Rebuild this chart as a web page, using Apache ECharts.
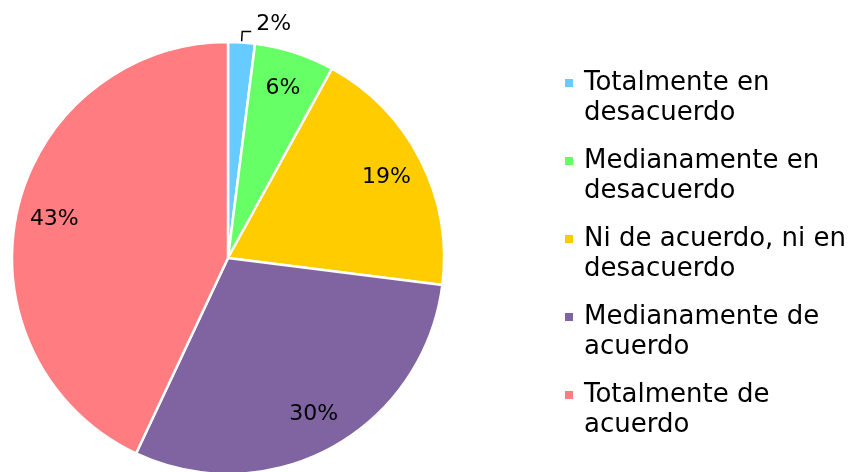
<!DOCTYPE html>
<html><head><meta charset="utf-8">
<script src="https://cdn.jsdelivr.net/npm/echarts@6/dist/echarts.min.js"></script>
<style>html,body{margin:0;padding:0;background:#fff}#c{width:849px;height:472px}</style>
</head><body><div id="c"></div>
<script>
const categories = ['Totalmente en\ndesacuerdo','Medianamente en\ndesacuerdo','Ni de acuerdo, ni en\ndesacuerdo','Medianamente de\nacuerdo','Totalmente de\nacuerdo'];
const values = [2, 6, 19, 30, 43];
const colors = ['#66CCFF', '#66FF66', '#FFCC00', '#8064A2', '#FF7C80'];
const FONT = 'DejaVu Sans';
const center = [228, 258];
const R = 216;

const chart = echarts.init(document.getElementById('c'), null, {renderer:'canvas'});
const mainData = categories.map((n,i)=>({
  name:n, value:values[i], itemStyle:{color:colors[i]},
  label: i===0 ? {show:true, position:'outside', formatter:'{a|{c}%}\n{b| }',
    rich:{a:{fontFamily:FONT, fontSize:22, color:'#000', lineHeight:24}, b:{fontSize:10, lineHeight:14}}} : {show:false},
  labelLine: {show: i===0}
}));
const overlayData = categories.map((n,i)=>({
  name:n, value:values[i],
  label: {show: i!==0}
}));
chart.setOption({
  animation:false,
  legend:{
    orient:'vertical', left:563, top:38, padding:0, itemWidth:10, itemHeight:10, itemGap:-12,
    icon:'rect', selectedMode:false,
    data: categories,
    formatter: n => ' \n' + n,
    textStyle:{fontFamily:FONT, fontSize:26, color:'#000', lineHeight:30, padding:[0,0,0,5]}
  },
  series:[{
    type:'pie', center:center, radius:[0,R], startAngle:90, clockwise:true,
    silent:true, data:mainData,
    itemStyle:{borderColor:'#fff', borderWidth:2.5},
    label:{formatter:'{c}%', fontFamily:FONT, fontSize:22, color:'#000'},
    labelLine:{length:11, length2:9, lineStyle:{color:'#000', width:1.5}}
  },{
    type:'pie', center:center, radius:[R*0.62, R], startAngle:90, clockwise:true,
    silent:true, data:overlayData, legendHoverLink:false,
    itemStyle:{color:'rgba(0,0,0,0)'},
    label:{position:'inside', formatter:'{c}%', fontFamily:FONT, fontSize:22, color:'#000'},
    labelLine:{show:false}
  }]
});
</script></body></html>
